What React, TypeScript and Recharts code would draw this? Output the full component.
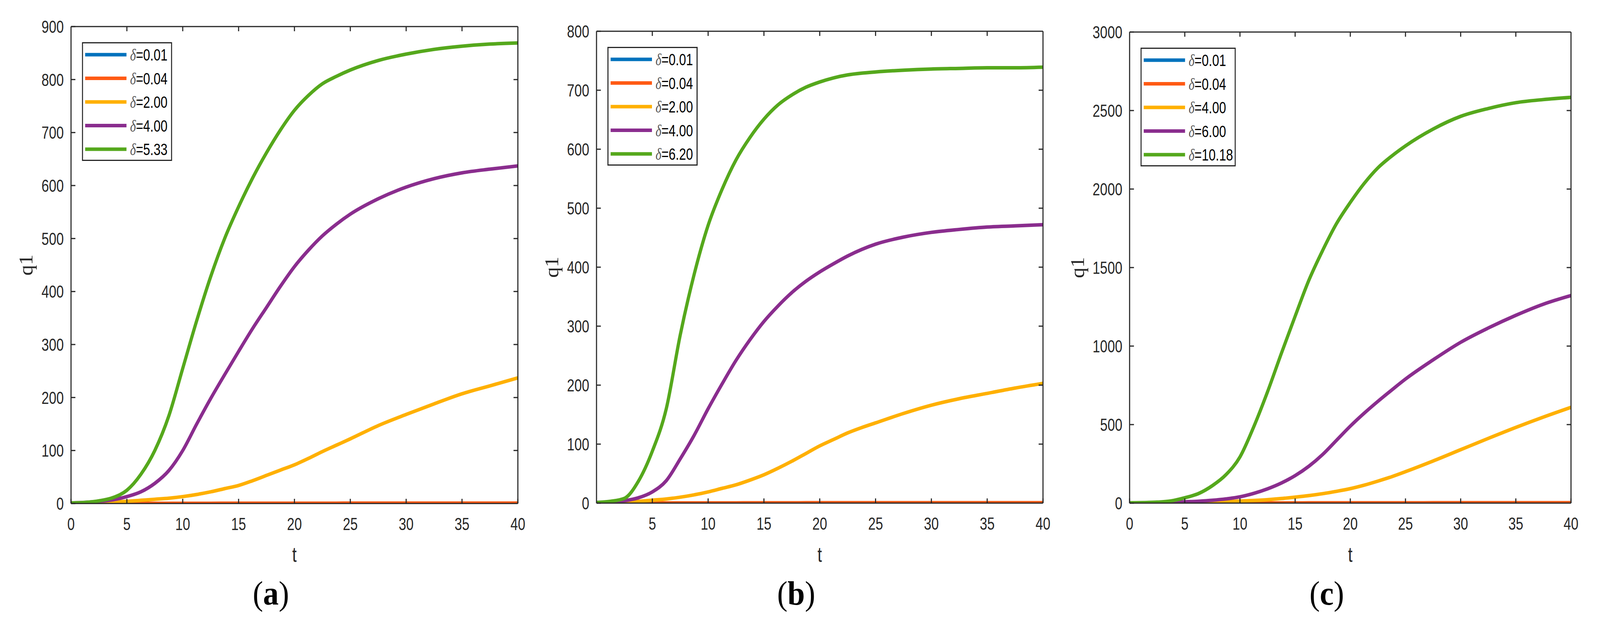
import React from 'react';
import { LineChart, Line, XAxis, YAxis, Legend } from 'recharts';

// time grid (t)
const T = [0, 1.25, 2.5, 3.75, 5, 6.25, 7.5, 8.75, 10, 11.25, 12.5, 13.75, 15, 16.25, 17.5, 18.75, 20, 21.25, 22.5, 23.75, 25, 27.5, 30, 32.5, 35, 37.5, 40];

// tick labels
const X_TICKS_A = [0, 5, 10, 15, 20, 25, 30, 35, 40];
const X_TICKS_B = [5, 10, 15, 20, 25, 30, 35, 40];
const X_TICKS_C = [0, 5, 10, 15, 20, 25, 30, 35, 40];
const Y_TICKS_A = [0, 100, 200, 300, 400, 500, 600, 700, 800, 900];
const Y_TICKS_B = [0, 100, 200, 300, 400, 500, 600, 700, 800];
const Y_TICKS_C = [0, 500, 1000, 1500, 2000, 2500, 3000];

// legend names
const NAMES_A = ['δ=0.01', 'δ=0.04', 'δ=2.00', 'δ=4.00', 'δ=5.33'];
const NAMES_B = ['δ=0.01', 'δ=0.04', 'δ=2.00', 'δ=4.00', 'δ=6.20'];
const NAMES_C = ['δ=0.01', 'δ=0.04', 'δ=4.00', 'δ=6.00', 'δ=10.18'];

// panel (a) series
const A_D001 = [0, 0, 0, 0, 0, 0, 0, 0, 0, 0, 0, 0, 0, 0, 0, 0, 0, 0, 0, 0, 0, 0, 0, 0, 0, 0, 0];
const A_D004 = [0, 0.1, 0.1, 0.2, 0.2, 0.3, 0.3, 0.3, 0.4, 0.4, 0.4, 0.5, 0.5, 0.5, 0.5, 0.6, 0.6, 0.6, 0.6, 0.6, 0.7, 0.7, 0.7, 0.7, 0.7, 0.7, 0.7];
const A_D200 = [1, 1, 2, 3, 4, 6, 8, 10, 13, 17, 22, 28, 34, 43, 53, 63, 73, 85, 98, 110, 122, 147, 168, 188, 207, 222, 237];
const A_D400 = [1, 2, 4, 7, 13, 22, 38, 62, 100, 150, 198, 243, 287, 330, 370, 410, 447, 478, 505, 527, 546, 575, 597, 613, 624, 631, 637];
const A_D533 = [1, 2, 5, 11, 25, 55, 100, 165, 255, 345, 428, 500, 560, 614, 662, 705, 742, 770, 792, 806, 818, 836, 848, 857, 863, 867, 869];

// panel (b) series
const B_D001 = [0, 0, 0, 0, 0, 0, 0, 0, 0, 0, 0, 0, 0, 0, 0, 0, 0, 0, 0, 0, 0, 0, 0, 0, 0, 0, 0];
const B_D004 = [0, 0.1, 0.1, 0.2, 0.2, 0.3, 0.3, 0.3, 0.4, 0.4, 0.4, 0.5, 0.5, 0.5, 0.5, 0.6, 0.6, 0.6, 0.6, 0.6, 0.7, 0.7, 0.7, 0.7, 0.7, 0.7, 0.7];
const B_D200 = [0, 1, 2, 3, 5, 7, 10, 14, 19, 25, 31, 39, 48, 59, 71, 84, 97, 108, 119, 128, 136, 152, 166, 177, 186, 195, 203];
const B_D400 = [1, 2, 4, 9, 19, 38, 75, 115, 160, 202, 242, 277, 308, 334, 357, 376, 392, 406, 419, 430, 439, 451, 459, 464, 468, 470, 472];
const B_D620 = [1, 3, 8, 37, 88, 160, 285, 388, 471, 532, 582, 620, 651, 675, 692, 705, 714, 721, 726, 729, 731, 734, 736, 737, 738, 738, 739];

// panel (c) series
const C_D001 = [0, 0, 0, 0, 0, 0, 0, 0, 0, 0, 0, 0, 0, 0, 0, 0, 0, 0, 0, 0, 0, 0, 0, 0, 0, 0, 0];
const C_D004 = [0, 0.2, 0.3, 0.5, 0.6, 0.8, 0.9, 1, 1.1, 1.2, 1.3, 1.4, 1.5, 1.6, 1.7, 1.8, 1.9, 2, 2, 2.1, 2.1, 2.2, 2.3, 2.3, 2.4, 2.4, 2.5];
const C_D400 = [0, 1, 2, 3, 4, 6, 8, 10, 13, 17, 22, 29, 38, 48, 60, 75, 92, 114, 140, 168, 200, 268, 340, 412, 482, 548, 610];
const C_D600 = [1, 2, 3, 5, 8, 12, 18, 27, 40, 62, 91, 128, 175, 235, 310, 400, 490, 572, 648, 720, 790, 912, 1024, 1115, 1196, 1267, 1322];
const C_D1018 = [2, 3, 6, 14, 34, 61, 111, 182, 294, 486, 709, 953, 1190, 1420, 1610, 1780, 1915, 2035, 2135, 2210, 2275, 2382, 2463, 2513, 2550, 2570, 2584];

const COLORS = ['#0072BD', '#FF5A14', '#FFB000', '#8A2D8E', '#55A81C'];
const AXIS = '#262626';
const SANS = "'Liberation Sans',Arial,Helvetica,sans-serif";
const SERIF = "'Liberation Serif','Times New Roman',serif";
const NARROW = 0.82;

const ML = 200;
const MR = 40;
const H = 1618;
const FULL_W = 4415;

const NText = ({ x, y, anchor, size, fill, children }: any) => (
  <text transform={`translate(${x},${y}) scale(${NARROW},1)`} textAnchor={anchor} fontFamily={SANS} fontSize={size} fill={fill}>
    {children}
  </text>
);

const BottomTick = (props: any) => {
  const { x, y, payload } = props;
  return (
    <g>
      <line x1={x} x2={x} y1={y} y2={y - 12} stroke={AXIS} strokeWidth={3} />
      <NText x={x} y={y + 68} anchor="middle" size={45} fill={AXIS}>{payload.value}</NText>
    </g>
  );
};
const TopTick = (props: any) => {
  const { x, y } = props;
  return <line x1={x} x2={x} y1={y} y2={y + 12} stroke={AXIS} strokeWidth={3} />;
};
const LeftTick = (props: any) => {
  const { x, y, payload } = props;
  return (
    <g>
      <line x1={x} x2={x + 12} y1={y} y2={y} stroke={AXIS} strokeWidth={3} />
      <NText x={x - 20} y={y + 16} anchor="end" size={45} fill={AXIS}>{payload.value}</NText>
    </g>
  );
};
const RightTick = (props: any) => {
  const { x, y } = props;
  return <line x1={x} x2={x - 12} y1={y} y2={y} stroke={AXIS} strokeWidth={3} />;
};

const makeLegend = (w: number) => (props: any) => {
  const payload = [...(props.payload || [])].sort((a: any, b: any) =>
    String(a.dataKey).localeCompare(String(b.dataKey)));
  return (
    <svg width={w} height={304} style={{ display: 'block' }}>
      <rect x={1.5} y={1.5} width={w - 3} height={301} fill="#fff" stroke={AXIS} strokeWidth={3} />
      {payload.map((p: any, i: number) => {
        const cy = 32 + 60.5 * i;
        const name = String(p.value);
        return (
          <g key={i}>
            <line x1={9} x2={123} y1={cy} y2={cy} stroke={p.color} strokeWidth={9} />
            <text transform={`translate(133,${cy + 15}) scale(${NARROW},1)`} fontSize={42}>
              <tspan fontFamily={SERIF} fontStyle="italic" fill="#555">{name.slice(0, 1)}</tspan>
              <tspan fontFamily={SANS} fill="#000">{name.slice(1)}</tspan>
            </text>
          </g>
        );
      })}
    </svg>
  );
};

type PanelProps = {
  left: number; top: number; right: number; bottom: number;
  yMax: number; yTicks: number[]; xTicks: number[];
  series: number[][]; names: string[]; legendW: number;
};

const Panel = ({ left, top, right, bottom, yMax, yTicks, xTicks, series, names, legendW }: PanelProps) => {
  const rows = T.map((t, i) => {
    const r: any = { t };
    series.forEach((s, k) => { r['s' + k] = s[i]; });
    return r;
  });
  const plotW = right - left;
  const W = ML + plotW + MR;
  return (
    <div style={{ position: 'absolute', left: left - ML, top: 0, width: W, height: H }}>
      <LineChart width={W} height={H} data={rows} margin={{ top: top - 1, bottom: H - bottom - 1, left: ML - 1, right: MR - 1 }}>
        <XAxis dataKey="t" type="number" domain={[0, 40]} ticks={xTicks} interval={0} height={1}
          tickSize={0} tickMargin={0} tickLine={false} tick={<BottomTick />} axisLine={{ stroke: AXIS, strokeWidth: 3 }} allowDataOverflow />
        <XAxis xAxisId="top" orientation="top" dataKey="t" type="number" domain={[0, 40]} ticks={[5, 10, 15, 20, 25, 30, 35]} interval={0} height={1}
          tickSize={0} tickMargin={0} tickLine={false} tick={<TopTick />} axisLine={{ stroke: AXIS, strokeWidth: 3 }} allowDataOverflow />
        <YAxis type="number" domain={[0, yMax]} ticks={yTicks} interval={0} width={1}
          tickSize={0} tickMargin={0} tickLine={false} tick={<LeftTick />} axisLine={{ stroke: AXIS, strokeWidth: 3 }} allowDataOverflow />
        <YAxis yAxisId="right" orientation="right" type="number" domain={[0, yMax]} ticks={yTicks.slice(1, -1)} interval={0} width={1}
          tickSize={0} tickMargin={0} tickLine={false} tick={<RightTick />} axisLine={{ stroke: AXIS, strokeWidth: 3 }} allowDataOverflow />
        {series.map((_, k) => (
          <Line key={k} type="monotone" dataKey={'s' + k} name={names[k]} stroke={COLORS[k]} strokeWidth={9}
            dot={false} activeDot={false} isAnimationActive={false} />
        ))}
        <Legend layout="vertical" align="center" verticalAlign="middle" content={makeLegend(legendW)}
          wrapperStyle={{ left: ML + 30, top: top + 40, width: legendW, height: 304 }} />
      </LineChart>
    </div>
  );
};

const PANELS = [
  { left: 196, top: 68, right: 1429, bottom: 1289, yMax: 900, yTicks: Y_TICKS_A, xTicks: X_TICKS_A, series: [A_D001, A_D004, A_D200, A_D400, A_D533], names: NAMES_A, legendW: 249, tag: 'a', q: 106 },
  { left: 1646, top: 80, right: 2878, bottom: 1288, yMax: 800, yTicks: Y_TICKS_B, xTicks: X_TICKS_B, series: [B_D001, B_D004, B_D200, B_D400, B_D620], names: NAMES_B, legendW: 249, tag: 'b', q: 106 },
  { left: 3117, top: 82, right: 4335, bottom: 1288, yMax: 3000, yTicks: Y_TICKS_C, xTicks: X_TICKS_C, series: [C_D001, C_D004, C_D400, C_D600, C_D1018], names: NAMES_C, legendW: 263, tag: 'c', q: 126 },
];

export default function App() {
  const vw = typeof window !== 'undefined' && window.innerWidth ? window.innerWidth : FULL_W;
  const vh = typeof window !== 'undefined' && window.innerHeight ? window.innerHeight : H;
  const sx = vw / FULL_W;
  const sy = vh / H;
  return (
    <div style={{ position: 'absolute', left: 0, top: 0, width: FULL_W, height: H, background: '#fff', overflow: 'hidden', transform: `scale(${sx},${sy})`, transformOrigin: '0 0' }}>
      {PANELS.map((p) => (
        <Panel key={p.tag} left={p.left} top={p.top} right={p.right} bottom={p.bottom} yMax={p.yMax}
          yTicks={p.yTicks} xTicks={p.xTicks} series={p.series} names={p.names} legendW={p.legendW} />
      ))}
      <svg width={FULL_W} height={H} style={{ position: 'absolute', left: 0, top: 0, pointerEvents: 'none' }}>
        {PANELS.map((p) => {
          const cx = (p.left + p.right) / 2;
          const cy = (p.top + p.bottom) / 2;
          const qx = p.left - p.q;
          return (
            <g key={p.tag}>
              <NText x={cx} y={1438} anchor="middle" size={54} fill={AXIS}>t</NText>
              <text transform={`translate(${qx},${cy}) rotate(-90)`} textAnchor="middle" fontFamily={SERIF} fontSize={54} fill={AXIS}>q1</text>
              <text x={cx - 65} y={1548} textAnchor="middle" fontFamily={SERIF} fontSize={86} fill="#000">
                (<tspan fontWeight="bold">{p.tag}</tspan>)
              </text>
            </g>
          );
        })}
      </svg>
    </div>
  );
}
